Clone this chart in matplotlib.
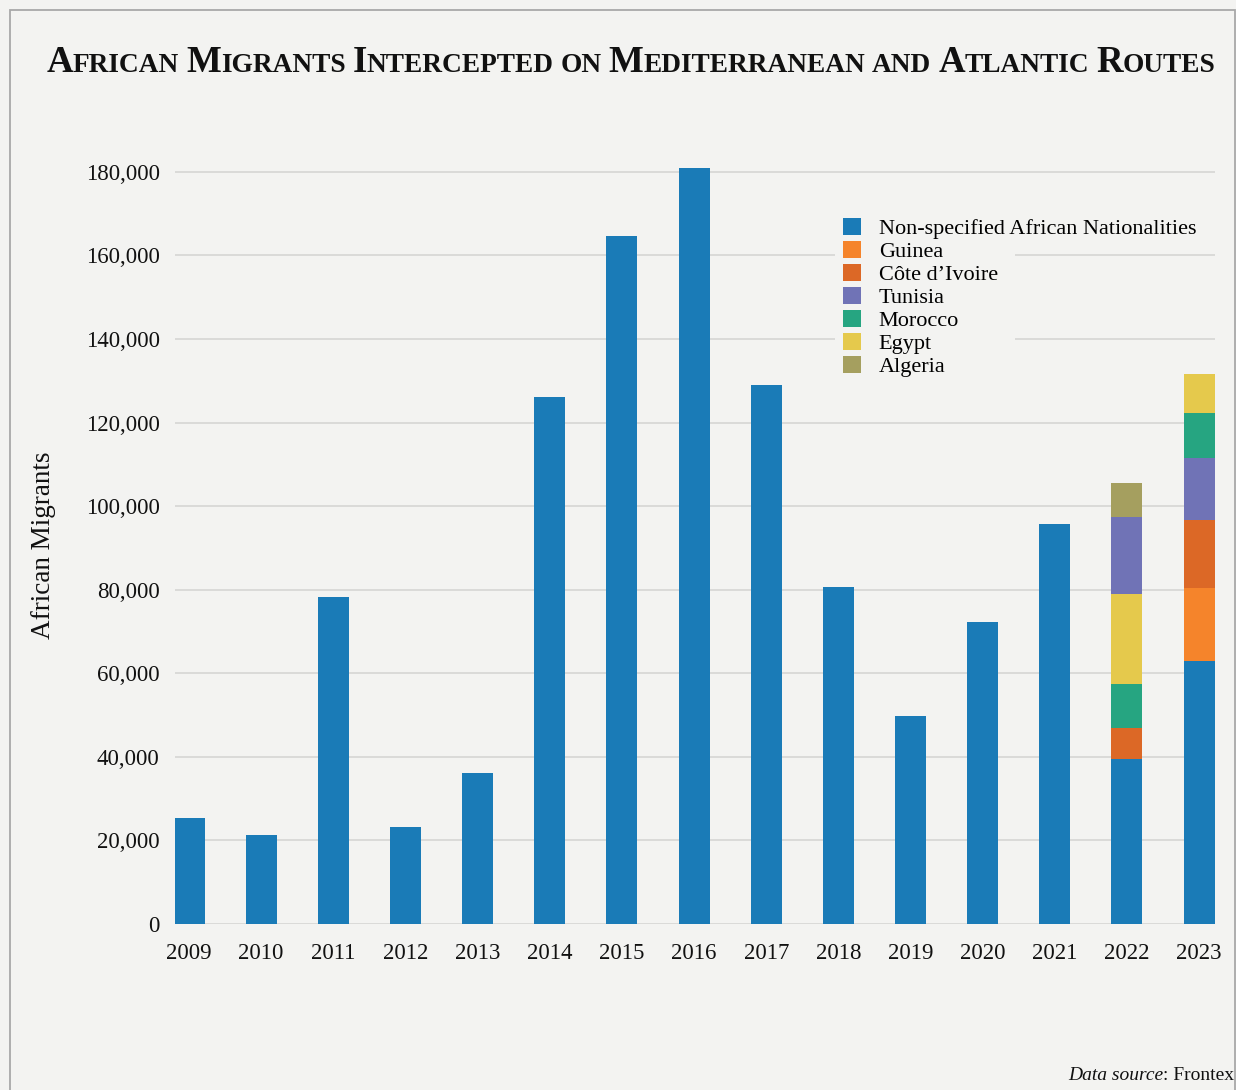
import matplotlib
matplotlib.use("Agg")
import matplotlib.pyplot as plt
from matplotlib.patches import Rectangle, Patch
from matplotlib.ticker import FuncFormatter

# data
years = [2009, 2010, 2011, 2012, 2013, 2014, 2015, 2016, 2017, 2018, 2019, 2020, 2021, 2022, 2023]
nonspecified = [25400, 21300, 78300, 23200, 36200, 126200, 164700, 181000, 129000,
                 80700, 49800, 72300, 95800, 39400, 63000]

stack_years = [2022, 2023]
guinea = [0, 17500]
cote_divoire = [7400, 16200]
tunisia = [18500, 14700]
morocco = [10700, 11000]
egypt = [21500, 9300]
algeria = [8100, 0]

# order of the segments above the blue part, bottom to top
stack_order = {
    2022: ["Côte d’Ivoire", "Morocco", "Egypt", "Tunisia", "Algeria"],
    2023: ["Guinea", "Côte d’Ivoire", "Tunisia", "Morocco", "Egypt"],
}

legend_names = ["Non-specified African Nationalities", "Guinea", "Côte d’Ivoire",
                "Tunisia", "Morocco", "Egypt", "Algeria"]
colors = {
    "Non-specified African Nationalities": "#1a7bb7",
    "Guinea": "#f5842b",
    "Côte d’Ivoire": "#dc6826",
    "Tunisia": "#7073b6",
    "Morocco": "#26a581",
    "Egypt": "#e5c94c",
    "Algeria": "#a59f5f",
}
extra = {"Guinea": guinea, "Côte d’Ivoire": cote_divoire, "Tunisia": tunisia,
         "Morocco": morocco, "Egypt": egypt, "Algeria": algeria}

BG = "#f3f3f1"
SERIF = ["Liberation Serif", "DejaVu Serif"]
plt.rcParams["font.family"] = SERIF

fig = plt.figure(figsize=(12.36, 10.9), dpi=100, facecolor=BG)
ax = fig.add_axes([0.1416, 0.1523, 0.8414, 0.7284], facecolor=BG)

x = list(range(len(years)))
w = 0.43
ax.bar(x, nonspecified, width=w, color=colors[legend_names[0]], zorder=3)

for j, yr in enumerate(stack_years):
    i = years.index(yr)
    bottom = nonspecified[i]
    for name in stack_order[yr]:
        v = extra[name][j]
        ax.bar(i, v, bottom=bottom, width=w, color=colors[name], zorder=3)
        bottom += v

ax.set_xlim(-0.194, 14.22)
ax.set_ylim(0, 190000)
ax.set_yticks(range(0, 180001, 20000))
ax.yaxis.set_major_formatter(FuncFormatter(lambda v, p: f"{int(v):,}"))
ax.set_xticks(x)
ax.set_xticklabels([str(y) for y in years])
ax.tick_params(axis="both", length=0, labelsize=16.5, colors="#111111")
ax.tick_params(axis="x", pad=14)
ax.tick_params(axis="y", pad=11)
for s in ax.spines.values():
    s.set_visible(False)
ax.grid(axis="y", color="#d6d6d4", lw=1.2, zorder=0)
ax.set_axisbelow(True)

# legend: background patch hides the grid lines behind it
ax.add_patch(Rectangle((835, 716), 180, 158, transform=None, facecolor=BG,
                       edgecolor="none", zorder=1))
handles = [Patch(facecolor=colors[n], edgecolor="none") for n in legend_names]
leg = ax.legend(handles, legend_names, loc="upper left", bbox_to_anchor=(0.634, 0.901),
                frameon=False, fontsize=16, handlelength=0.8, handleheight=0.8,
                handletextpad=0.8, labelspacing=0.08, borderaxespad=0)

fig.text(44 / 1236, 1 - 545 / 1090, "African Migrants", rotation=90, ha="center",
         va="center", fontsize=19.5, color="#111111")

# small caps title built piece by piece
title_words = ["African", "Migrants", "Intercepted", "on", "Mediterranean", "and",
               "Atlantic", "Routes"]
big, small = 26.6, 19.7
pieces = []
for k, word in enumerate(title_words):
    if word[0].isupper():
        pieces.append((word[0], big))
        pieces.append((word[1:].upper(), small))
    else:
        pieces.append((word.upper(), small))
    if k < len(title_words) - 1:
        pieces.append((" ", small))

r = fig.canvas.get_renderer()
texts = []
for s, fs in pieces:
    t = fig.text(0, 1 - 72 / 1090, s.replace(" ", "\u00a0"), fontsize=fs,
                 fontweight="bold", va="baseline", ha="left", color="#111111")
    texts.append(t)
widths = [t.get_window_extent(renderer=r).width for t in texts]
total = sum(widths)
cur = 631 - total / 2
for t, wd in zip(texts, widths):
    t.set_x(cur / 1236)
    cur += wd

# source note
t2 = fig.text(1234 / 1236, 1 - 1080 / 1090, ": Frontex", fontsize=14, ha="right",
              va="baseline", color="#111111")
w2 = t2.get_window_extent(renderer=r).width
fig.text((1234 - w2) / 1236, 1 - 1080 / 1090, "Data source", fontsize=14,
         style="italic", ha="right", va="baseline", color="#111111")

# page frame
frame = Rectangle((9.5 / 1236, -0.01), 1225 / 1236, 1 - 9.5 / 1090 + 0.01,
                  transform=fig.transFigure, fill=False, edgecolor="#a8a8a8", lw=1.3)
fig.patches.append(frame)

fig.savefig("out.png", dpi=100, facecolor=BG)
